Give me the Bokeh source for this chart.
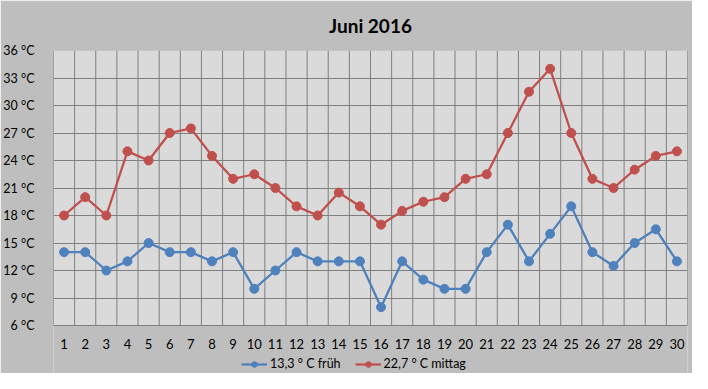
from bokeh.plotting import figure
from bokeh.models import FixedTicker, Legend, LegendItem, ColumnDataSource, LinearAxis, BoxAnnotation
from bokeh.embed import file_html
from bokeh.resources import INLINE

days = list(range(1, 31))
frueh = [14, 14, 12, 13, 15, 14, 14, 13, 14, 10, 12, 14, 13, 13, 13, 8, 13, 11, 10, 10,
         14, 17, 13, 16, 19, 14, 12.5, 15, 16.5, 13]
mittag = [18, 20, 18, 25, 24, 27, 27.5, 24.5, 22, 22.5, 21, 19, 18, 20.5, 19, 17, 18.5, 19.5, 20, 22,
          22.5, 27, 31.5, 34, 27, 22, 21, 23, 24.5, 25]
y_ticks = [6, 9, 12, 15, 18, 21, 24, 27, 30, 33, 36]
y_tick_labels = ["6 °C", "9 °C", "12 °C", "15 °C", "18 °C", "21 °C", "24 °C", "27 °C", "30 °C", "33 °C", "36 °C"]
series_names = ["13,3 ° C früh", "22,7 ° C mittag"]
title_text = "Juni 2016"

FONT = "Lato"
BLUE = "#4F81BD"
RED = "#C0504D"
BG = "#BEBEBE"
PLOT_BG = "#DADADA"
GRID = "#7F7F7F"

W, H = 692, 373
TOP, LEFT, RIGHT = 50, 47, 5
PLOT_PX = 275          # height of the gridded area in pixels
EXTRA_PX = H - TOP - PLOT_PX   # room under the gridded area (axis labels + legend)
y_lo, y_hi = y_ticks[0], y_ticks[-1]
y_start = y_lo - EXTRA_PX * (y_hi - y_lo) / PLOT_PX
x_lo, x_hi = days[0] - 0.5, days[-1] + 0.5

p = figure(width=W, height=H, output_backend="svg", toolbar_location=None,
           x_range=(x_lo, x_hi), y_range=(y_start, y_hi),
           x_axis_location=None,
           min_border_left=LEFT, min_border_right=RIGHT, min_border_top=TOP, min_border_bottom=0,
           title=title_text)
p.background_fill_color = BG
p.border_fill_color = BG
p.outline_line_color = None

p.title.align = "center"
p.title.vertical_align = "top"
p.title.text_font = FONT
p.title.text_font_size = "19px"
p.title.text_font_style = "bold"
p.title.text_color = "#000000"
p.title.standoff = 24

# gridded plot area
p.add_layout(BoxAnnotation(left=x_lo, right=x_hi, bottom=y_lo, top=y_hi,
                           fill_color=PLOT_BG, fill_alpha=1, line_color=GRID, line_width=1,
                           level="image"))

# axes
xaxis = LinearAxis(fixed_location=y_lo, ticker=FixedTicker(ticks=days))
p.add_layout(xaxis, "below")
p.yaxis.ticker = FixedTicker(ticks=y_ticks)
p.yaxis.major_label_overrides = {t: l for t, l in zip(y_ticks, y_tick_labels)}
for ax in (xaxis, p.yaxis[0]):
    ax.axis_line_color = None
    ax.major_tick_line_color = None
    ax.minor_tick_line_color = None
    ax.major_label_text_font = FONT
    ax.major_label_text_font_size = "13px"
    ax.major_label_text_color = "#000000"
p.yaxis.major_label_text_font_size = "12.5px"
p.yaxis.major_label_standoff = 13
xaxis.major_label_standoff = 7

# grid: horizontal lines from the y ticks, vertical lines at day boundaries
yg = p.ygrid[0]
yg.ticker = FixedTicker(ticks=y_ticks)
yg.grid_line_color = GRID
yg.grid_line_width = 1
p.xgrid.visible = False
boundaries = [d + 0.5 for d in range(0, 31)]
p.segment(x0=boundaries, y0=[y_lo] * len(boundaries), x1=boundaries, y1=[y_hi] * len(boundaries),
          line_color=GRID, line_width=1, level="underlay")

src = ColumnDataSource(dict(day=days, frueh=frueh, mittag=mittag))
l1 = p.line("day", "frueh", source=src, line_color=BLUE, line_width=2.3)
s1 = p.scatter("day", "frueh", source=src, size=9, fill_color=BLUE, line_color=BLUE)
l2 = p.line("day", "mittag", source=src, line_color=RED, line_width=2.3)
s2 = p.scatter("day", "mittag", source=src, size=9, fill_color=RED, line_color=RED)

legend = Legend(items=[LegendItem(label=series_names[0], renderers=[l1, s1]),
                       LegendItem(label=series_names[1], renderers=[l2, s2])],
                orientation="horizontal", location=(188, 2),
                background_fill_alpha=0, border_line_color=None,
                label_text_font=FONT, label_text_font_size="12.5px", label_text_color="#000000",
                glyph_width=26, glyph_height=14, label_standoff=3, spacing=14, padding=2, margin=0)
p.add_layout(legend, "center")

open("out.html", "w").write(file_html(p, INLINE))
